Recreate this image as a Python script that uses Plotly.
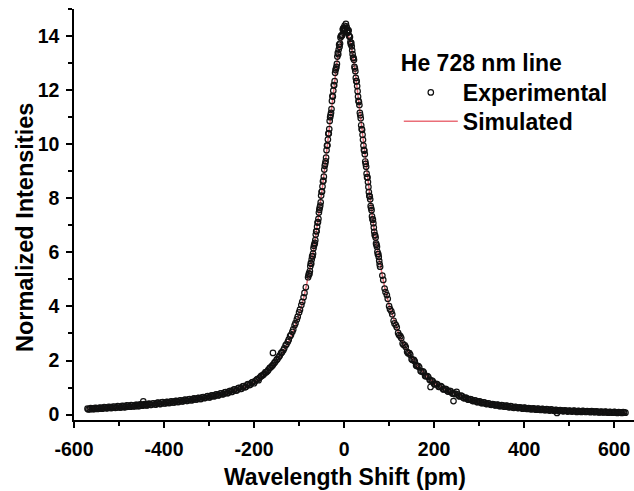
import plotly.graph_objects as go

# ---------------- data ----------------
x_left = [-570,-565,-560,-555,-550,-545,-540,-535,-530,-525,-520,-515,-510,-505,-500,
          -495,-490,-485,-480,-475,-470,-465,-460,-455,-450,-445,-440,-435,-430,-425,
          -420,-415,-410,-405,-400,-395,-390,-385,-380,-375,-370,-365,-360,-355,-350,
          -345,-340,-335,-330,-325,-320,-315,-310,-305,-300,-295,-290,-285,-280,-275,
          -270,-265,-260,-255,-250,-245,-240,-235,-230,-225,-220,-215,-210,-205,-200,
          -195,-190,-185,-180,-175,-170,-165,-160,-155,-150,-145,-140,-135,-130,-125,
          -120,-115,-110,-105,-100,-95,-90,-85]
y_left = [0.22,0.20,0.23,0.21,0.24,0.22,0.25,0.23,0.27,0.24,0.28,0.25,0.29,0.26,0.30,
          0.27,0.31,0.28,0.33,0.29,0.34,0.31,0.36,0.32,0.37,0.36,0.35,0.39,0.36,0.41,
          0.38,0.43,0.40,0.45,0.42,0.46,0.43,0.48,0.45,0.50,0.47,0.52,0.49,0.54,0.51,
          0.56,0.53,0.58,0.56,0.61,0.58,0.64,0.61,0.67,0.64,0.70,0.68,0.74,0.71,0.78,
          0.75,0.82,0.79,0.86,0.84,0.92,0.89,0.98,0.95,1.04,1.01,1.11,1.09,1.18,1.16,
          1.28,1.27,1.41,1.46,1.56,1.61,1.73,1.80,1.91,2.02,2.13,2.27,2.38,2.56,2.69,
          2.90,3.06,3.30,3.52,3.78,4.05,4.34,4.71]

x_left_b = [-568,-563,-558,-553,-548,-543,-538,-533,-528,-523,-518,-513,-508,-503,-498,
            -493,-488,-483,-478,-473,-468,-463,-458,-453,-448,-443,-438,-433,-428,-423,
            -418,-413,-408,-403,-398,-393,-388,-383,-378,-373,-368,-363,-358,-353,-348,
            -343,-338,-333,-328,-323,-318,-313,-308,-303,-298,-293,-288,-283,-278,-273,
            -268,-263,-258,-253,-248,-243,-238,-233,-228,-223,-218,-213,-208,-203,-198,
            -193,-188,-183,-178,-173,-168,-163,-158,-153,-148,-143,-138,-133,-128,-123,
            -118,-113,-108,-103,-98,-93,-88]
y_left_b = [0.19,0.24,0.20,0.25,0.21,0.26,0.22,0.28,0.23,0.29,0.24,0.30,0.25,0.31,0.26,
            0.32,0.27,0.34,0.29,0.35,0.30,0.36,0.31,0.38,0.33,0.39,0.34,0.41,0.36,0.42,
            0.37,0.44,0.39,0.46,0.41,0.47,0.43,0.49,0.45,0.51,0.47,0.53,0.49,0.55,0.51,
            0.57,0.53,0.60,0.56,0.62,0.58,0.65,0.62,0.68,0.64,0.71,0.68,0.75,0.72,0.79,
            0.76,0.83,0.80,0.88,0.85,0.93,0.90,0.99,0.96,1.05,1.03,1.13,1.11,1.20,1.23,
            1.31,1.36,1.44,1.50,1.57,1.66,1.75,1.84,1.95,2.06,2.18,2.31,2.45,2.60,2.77,
            2.95,3.15,3.38,3.62,3.88,4.17,4.50]

x_core = [-80,-78,-76,-74,-72,-70,-68,-66,-64,-62,-60,-58,-56,-54,-52,-50,-48,-46,-44,-42,
          -40,-38,-36,-34,-32,-30,-28,-26,-24,-22,-20,-18,-16,-14,-12,-10,-8,-6,-4,-2,
          0,2,4,6,8,10,12,14,16,18,20,22,24,26,28,30,32,34,36,38,
          40,42,44,46,48,50,52,54,56,58,60,62,64,66,68,70,72,74,76,78,80]
y_core = [5.08,5.22,5.31,5.60,5.74,5.86,6.15,6.30,6.45,6.78,6.95,7.12,7.47,7.66,7.85,8.24,8.44,8.65,9.06,9.28,
          9.50,9.95,10.17,10.40,10.86,11.08,11.30,11.78,11.98,12.18,12.64,12.80,12.97,13.38,13.50,13.60,13.95,14.02,14.05,14.28,
          14.30,14.22,14.45,14.30,14.12,14.20,13.98,13.78,13.75,13.47,13.20,13.12,12.80,12.45,12.33,11.96,11.60,11.45,11.07,10.70,
          10.53,10.16,9.79,9.63,9.27,8.91,8.77,8.42,8.09,7.96,7.64,7.33,7.21,6.92,6.64,6.55,6.28,6.02,5.94,5.69,5.47]

x_core_b = [-79,-77,-75,-73,-71,-69,-67,-65,-63,-61,-59,-57,-55,-53,-51,-49,-47,-45,-43,-41,
            -39,-37,-35,-33,-31,-29,-27,-25,-23,-21,-19,-17,-15,-13,-11,-9,-7,-5,-3,-1,
            1,3,5,7,9,11,13,15,17,19,21,23,25,27,29,31,33,35,37,39,
            41,43,45,47,49,51,53,55,57,59,61,63,65,67,69,71,73,75,77,79]
y_core_b = [5.15,5.20,5.49,5.58,5.85,5.95,6.24,6.35,6.66,6.78,7.10,7.24,7.58,7.73,8.10,8.25,8.63,8.80,9.20,9.37,
            9.78,9.96,10.39,10.56,11.00,11.16,11.60,11.76,12.19,12.33,12.74,12.86,13.24,13.33,13.68,13.72,14.00,14.01,14.25,14.20,
            14.38,14.27,14.36,14.20,14.22,14.02,13.96,13.70,13.62,13.33,13.19,12.86,12.70,12.33,12.15,11.76,11.56,11.16,10.96,10.56,
            10.35,9.95,9.76,9.36,9.17,8.78,8.60,8.23,8.07,7.71,7.56,7.22,7.08,6.76,6.63,6.33,6.21,5.93,5.83,5.56]

x_right = [85,90,95,100,105,110,115,120,125,130,135,140,145,150,155,160,165,170,175,180,
           185,190,195,200,205,210,215,220,225,230,235,240,245,250,255,260,265,270,275,280,
           285,290,295,300,305,310,315,320,325,330,335,340,345,350,355,360,365,370,375,380,
           385,390,395,400,405,410,415,420,425,430,435,440,445,450,455,460,465,470,475,480,
           485,490,495,500,505,510,515,520,525,530,535,540,545,550,555,560,565,570,575,580,
           585,590,595,600,605,610,615,620,625]
y_right = [5.14,4.66,4.42,4.01,3.82,3.47,3.31,3.02,2.90,2.63,2.56,2.32,2.27,2.05,2.02,1.82,1.79,1.61,1.60,1.43,
           1.42,1.29,1.26,1.13,1.14,1.03,1.05,0.94,0.95,0.86,0.88,0.79,0.76,0.84,0.69,0.70,0.62,0.63,0.56,0.57,
           0.51,0.53,0.47,0.49,0.43,0.45,0.40,0.42,0.37,0.39,0.35,0.37,0.32,0.35,0.30,0.33,0.28,0.31,0.26,0.29,
           0.25,0.27,0.23,0.26,0.22,0.24,0.20,0.23,0.19,0.22,0.18,0.21,0.17,0.20,0.16,0.19,0.15,0.18,0.15,0.17,
           0.14,0.16,0.13,0.15,0.12,0.15,0.12,0.14,0.11,0.14,0.11,0.13,0.11,0.13,0.10,0.12,0.09,0.11,0.09,0.11,
           0.08,0.10,0.08,0.10,0.07,0.09,0.07,0.09,0.07]

x_right_b = [87,92,97,102,107,112,117,122,127,132,137,142,147,152,157,162,167,172,177,182,
             187,192,197,202,207,212,217,222,227,232,237,242,247,252,257,262,267,272,277,282,
             287,292,297,302,307,312,317,322,327,332,337,342,347,352,357,362,367,372,377,382,
             387,392,397,402,407,412,417,422,427,432,437,442,447,452,457,462,467,472,477,482,
             487,492,497,502,507,512,517,522,527,532,537,542,547,552,557,562,567,572,577,582,
             587,592,597,602,607,612,617,622]
y_right_b = [4.98,4.53,4.28,3.90,3.71,3.37,3.23,2.94,2.83,2.58,2.50,2.27,2.21,2.02,1.97,1.80,1.75,1.59,1.56,1.42,
             1.39,1.26,1.23,1.12,1.12,1.02,1.02,0.93,0.93,0.85,0.86,0.77,0.78,0.75,0.67,0.68,0.60,0.61,0.55,0.56,
             0.50,0.52,0.46,0.48,0.42,0.44,0.39,0.41,0.36,0.38,0.34,0.36,0.31,0.34,0.29,0.32,0.27,0.30,0.25,0.28,
             0.24,0.26,0.22,0.25,0.21,0.23,0.20,0.22,0.18,0.21,0.17,0.20,0.16,0.19,0.15,0.18,0.14,0.17,0.13,0.16,
             0.12,0.15,0.11,0.14,0.11,0.14,0.10,0.13,0.10,0.13,0.10,0.12,0.09,0.12,0.09,0.11,0.08,0.10,0.08,0.10,
             0.07,0.09,0.07,0.09,0.06,0.08,0.06,0.08]

x_outliers = [-446, -158, 192, 243, 473]
y_outliers = [0.49, 2.28, 1.02, 0.50, 0.06]

x_sim = [-570,-550,-525,-500,-475,-450,-425,-400,-375,-350,-325,-300,-275,-250,-225,-200,
         -190,-180,-170,-160,-150,-140,-130,-120,-110,-100,-90,-80,-72,-64,-56,-48,-40,-32,
         -24,-16,-10,-6,-2,2,6,10,16,24,32,40,48,56,64,72,80,90,100,110,120,130,140,150,
         160,170,180,190,200,225,250,275,300,325,350,375,400,425,450,475,500,525,550,575,600,625]
y_sim = [0.20,0.22,0.25,0.27,0.30,0.34,0.38,0.42,0.47,0.52,0.58,0.65,0.74,0.85,0.99,1.17,
         1.29,1.42,1.57,1.75,1.95,2.19,2.48,2.81,3.22,3.70,4.29,5.01,5.69,6.48,7.39,8.42,9.55,10.76,
         11.96,13.00,13.60,13.90,14.08,14.12,14.08,13.98,13.62,12.77,11.66,10.45,9.26,8.15,7.15,6.27,5.51,4.71,4.05,3.51,3.06,2.68,2.37,2.10,
         1.87,1.66,1.48,1.32,1.17,0.93,0.74,0.58,0.47,0.39,0.33,0.28,0.24,0.21,0.18,0.16,0.14,0.13,0.12,0.10,0.09,0.08]

x_ticks = [-600, -400, -200, 0, 200, 400, 600]
x_tick_labels = ["-600", "-400", "-200", "0", "200", "400", "600"]
y_ticks = [0, 2, 4, 6, 8, 10, 12, 14]
y_tick_labels = ["0", "2", "4", "6", "8", "10", "12", "14"]

for xs, ys in [(x_left, y_left), (x_left_b, y_left_b), (x_core, y_core), (x_core_b, y_core_b),
               (x_right, y_right), (x_right_b, y_right_b), (x_outliers, y_outliers), (x_sim, y_sim)]:
    assert len(xs) == len(ys), (len(xs), len(ys), xs[0])

# ---------------- figure ----------------
x_exp = x_left + x_left_b + x_core + x_core_b + x_right + x_right_b + x_outliers
y_exp = y_left + y_left_b + y_core + y_core_b + y_right + y_right_b + y_outliers

FONT = "Liberation Sans, Arial, sans-serif"
LEG_FONT = dict(family=FONT, size=23, color="black", weight="bold")

fig = go.Figure()
fig.add_trace(go.Scatter(
    x=x_sim, y=y_sim, mode="lines", name="Simulated", legend="legend2", showlegend=True,
    line=dict(color="#ea6e78", width=1.5),
))
fig.add_trace(go.Scatter(
    x=x_exp, y=y_exp, mode="markers", name="Experimental", legend="legend", showlegend=True,
    marker=dict(symbol="circle-open", size=5.5, color="#111111", line=dict(width=1.2, color="#111111")),
))

axis_common = dict(
    showline=True, linecolor="black", linewidth=1.5,
    ticks="outside", ticklen=6, tickwidth=1.5, tickcolor="black",
    showgrid=False, zeroline=False,
    tickfont=dict(family=FONT, size=19.5, color="black", weight="bold"),
)

fig.update_xaxes(
    range=[-600, 644], tickmode="array", tickvals=x_ticks, ticktext=x_tick_labels,
    ticklabelstandoff=5,
    minor=dict(tickmode="linear", tick0=-600, dtick=100, ticks="outside", ticklen=4,
               tickwidth=1.5, tickcolor="black"),
    **axis_common,
)
fig.update_yaxes(
    range=[-0.2, 15.0], tickmode="array", tickvals=y_ticks, ticktext=y_tick_labels,
    ticklabelstandoff=3,
    minor=dict(tickmode="linear", tick0=0, dtick=1, ticks="outside", ticklen=4,
               tickwidth=1.5, tickcolor="black"),
    **axis_common,
)

fig.update_layout(
    width=634, height=491,
    margin=dict(l=74, r=0, t=9, b=71),
    plot_bgcolor="white", paper_bgcolor="white",
    font=dict(family=FONT, color="black"),
    showlegend=True,
    legend=dict(
        x=0.58, y=0.922, xanchor="left", yanchor="top", visible=True,
        bgcolor="rgba(0,0,0,0)", font=LEG_FONT,
        title=dict(text="He 728 nm line", font=LEG_FONT),
        itemwidth=54,
    ),
    legend2=dict(
        x=0.58, y=0.779, xanchor="left", yanchor="top", visible=True,
        bgcolor="rgba(0,0,0,0)", font=LEG_FONT,
        itemwidth=54,
    ),
    annotations=[
        dict(text="Wavelength Shift (pm)", xref="paper", yref="paper", x=0.484, y=-0.139,
             xanchor="center", yanchor="middle", showarrow=False,
             font=dict(family=FONT, size=23, color="black", weight="bold")),
        dict(text="Normalized Intensities", xref="paper", yref="paper", x=-0.0875, y=0.467,
             xanchor="center", yanchor="middle", showarrow=False, textangle=-90,
             font=dict(family=FONT, size=23.5, color="black", weight="bold")),
    ],
)

fig.write_html("out.html")
